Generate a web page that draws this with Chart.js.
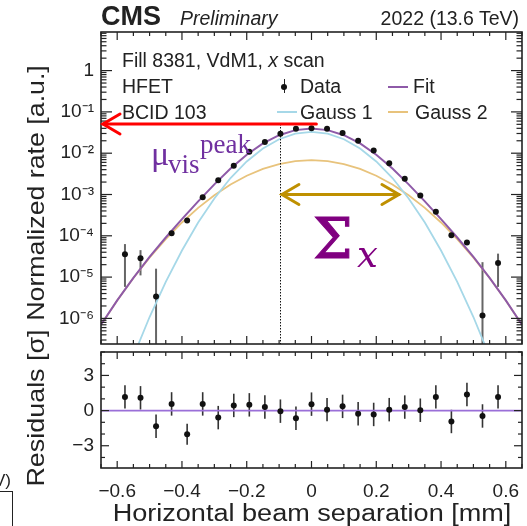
<!DOCTYPE html>
<html>
<head>
<meta charset="utf-8">
<script src="https://cdn.jsdelivr.net/npm/chart.js@4.4.1/dist/chart.umd.min.js"></script>
<style>
  body { margin: 0; background: #fff; }
  #page { position: relative; width: 527px; height: 526px; overflow: hidden;
          font-family: 'Liberation Sans', Arial, sans-serif; color: #222; }
  #top { position: absolute; left: 0; top: 0; width: 527px; height: 348px; }
  #bottom { position: absolute; left: 0; top: 348px; width: 527px; height: 178px; }
  .txt { position: absolute; white-space: nowrap; line-height: 1; }
  .serif { font-family: 'Liberation Serif', 'Times New Roman', serif; }
  .math { font-family: 'DejaVu Serif', serif; }
  .lg { position: absolute; height: 0; }
</style>
</head>
<body>
<div id="page">
  <div id="top"><canvas id="rateChart"></canvas></div>
  <div id="bottom"><canvas id="residChart"></canvas></div>

  <!-- header -->
  <div class="txt" style="left:101px; top:3px; font-size:27px; font-weight:bold;">CMS</div>
  <div class="txt" style="left:180px; top:8.5px; font-size:19.5px; font-style:italic;">Preliminary</div>
  <div class="txt" style="right:8px; top:8.5px; font-size:19.5px;">2022 (13.6 TeV)</div>

  <!-- info + legend -->
  <div class="txt" style="left:122px; top:50.5px; font-size:19.5px;">Fill 8381, VdM1, <i>x</i> scan</div>
  <div class="txt" style="left:122px; top:76.5px; font-size:19.5px;">HFET</div>
  <div class="txt" style="left:122px; top:102.5px; font-size:19.5px;">BCID 103</div>
  <div class="lg" style="left:283.5px; top:79px; width:1.5px; height:14px; background:#222;"></div>
  <div class="lg" style="left:281px; top:83.5px; width:6px; height:6px; border-radius:50%; background:#111;"></div>
  <div class="txt" style="left:300px; top:76.5px; font-size:19.5px;">Data</div>
  <div class="lg" style="left:388px; top:86px; width:20px; border-top:2px solid #8e5aa8;"></div>
  <div class="txt" style="left:413px; top:76.5px; font-size:19.5px;">Fit</div>
  <div class="lg" style="left:277px; top:111px; width:20px; border-top:2px solid #a6d8e8;"></div>
  <div class="txt" style="left:300px; top:102.5px; font-size:19.5px;">Gauss 1</div>
  <div class="lg" style="left:388px; top:111px; width:20px; border-top:2px solid #e8c37c;"></div>
  <div class="txt" style="left:415px; top:102.5px; font-size:19.5px;">Gauss 2</div>

  <!-- annotations -->
  <div class="txt serif" style="left:151px; top:136.5px; font-size:34px; color:#7030a0;">μ</div>
  <div class="txt serif" style="left:168px; top:150.5px; font-size:27px; color:#7030a0;">vis</div>
  <div class="txt serif" style="left:200px; top:130.5px; font-size:27px; color:#7030a0;">peak</div>
  <div class="txt math" style="left:313px; top:211px; font-size:56px; color:#800080; -webkit-text-stroke:1px #800080;">Σ</div>
  <div class="txt math" style="left:357px; top:236px; font-size:37px; font-style:italic; color:#800080;">x</div>

  <!-- axis titles -->
  <div class="txt title" data-len="255" data-rot="1" style="left:36px; top:193px; font-size:24px;">Normalized rate [a.u.]</div>
  <div class="txt title" data-len="157" data-rot="1" style="left:36px; top:408px; font-size:24px;">Residuals [σ]</div>
  <div class="txt title" data-len="399" style="left:312px; top:513px; font-size:23px;">Horizontal beam separation [mm]</div>

  <!-- cropped slide leftovers -->
  <div class="txt" style="left:-6px; top:472px; font-size:17px;">V)</div>
  <div class="lg" style="left:0; top:491px; width:13px; border-top:1.5px solid #222;"></div>
  <div class="lg" style="left:12px; top:491px; width:0; height:40px; border-left:1.5px solid #222;"></div>
</div>

<script>
// --- data ---
const separation = [-0.576, -0.528, -0.480, -0.432, -0.384, -0.336, -0.288, -0.240, -0.192, -0.144, -0.096, -0.048,
                    0.000, 0.048, 0.096, 0.144, 0.192, 0.240, 0.288, 0.336, 0.384, 0.432, 0.480, 0.528, 0.576];
const rate = [3.6e-5, 2.85e-5, 3.4e-6, 1.15e-4, 2.35e-4, 8.6e-4, 2.2e-3, 5.0e-3, 1.08e-2, 1.87e-2, 2.95e-2, 3.9e-2,
              4.0e-2, 3.9e-2, 3.1e-2, 2.0e-2, 1.16e-2, 5.7e-3, 2.4e-3, 9.5e-4, 3.8e-4, 1.03e-4, 6.9e-5, 1.17e-6, 2.2e-5];
// error bar ends (null = hidden behind the marker)
const rateHi = [6.3e-5, 4.5e-5, 1.6e-5, null, null, null, null, null, null, null, null, null,
                null, null, null, null, null, null, null, null, null, null, null, 2.3e-5, 3.7e-5];
const rateLo = [5.8e-6, 1.1e-5, 1e-8, null, null, null, null, null, null, null, null, null,
                null, null, null, null, null, null, null, null, null, null, null, 1e-8, 5.8e-6];
const residual = [1.17, 1.09, -1.34, 0.57, -2.02, 0.57, -0.60, 0.44, 0.49, 0.30, -0.05, -0.66,
                  0.55, 0.08, 0.36, -0.27, -0.33, 0.08, 0.30, 0.03, 1.17, -0.93, 1.37, -0.46, 1.17];
const residualErr = [1, 1, 1, 1, 0.9, 1, 1, 1, 1, 1, 1, 1, 1, 1, 1, 1, 1, 1, 1, 1, 1, 1, 1, 1, 1];

// fit curves sampled on a grid
const fitGrid = [-0.65, -0.60, -0.55, -0.50, -0.45, -0.40, -0.35, -0.30, -0.25, -0.20, -0.15, -0.10, -0.05, 0,
                 0.05, 0.10, 0.15, 0.20, 0.25, 0.30, 0.35, 0.40, 0.45, 0.50, 0.55, 0.60, 0.65];
const fitCurve = [7.0e-7, 2.73e-6, 9.6e-6, 3.08e-5, 9.1e-5, 2.54e-4, 6.83e-4, 1.76e-3, 4.24e-3, 9.17e-3, 1.72e-2, 2.73e-2, 3.62e-2, 3.98e-2,
                  3.62e-2, 2.73e-2, 1.72e-2, 9.17e-3, 4.24e-3, 1.76e-3, 6.83e-4, 2.54e-4, 9.1e-5, 3.08e-5, 9.6e-6, 2.73e-6, 7.0e-7];
const gauss1Curve = [8.6e-10, 1.1e-8, 1.2e-7, 1.08e-6, 7.7e-6, 4.4e-5, 2.09e-4, 8.0e-4, 2.5e-3, 6.3e-3, 1.3e-2, 2.18e-2, 2.98e-2, 3.3e-2,
                     2.98e-2, 2.18e-2, 1.3e-2, 6.3e-3, 2.5e-3, 8.0e-4, 2.09e-4, 4.4e-5, 7.7e-6, 1.08e-6, 1.2e-7, 1.1e-8, 8.6e-10];
const gauss2Curve = [7.0e-7, 2.7e-6, 9.5e-6, 2.97e-5, 8.3e-5, 2.1e-4, 4.74e-4, 9.6e-4, 1.75e-3, 2.85e-3, 4.17e-3, 5.47e-3, 6.44e-3, 6.8e-3,
                     6.44e-3, 5.47e-3, 4.17e-3, 2.85e-3, 1.75e-3, 9.6e-4, 4.74e-4, 2.1e-4, 8.3e-5, 2.97e-5, 9.5e-6, 2.7e-6, 7.0e-7];

// tick labels
const sepTicks = [-0.6, -0.4, -0.2, 0, 0.2, 0.4, 0.6];
const sepTickLabels = ['\u22120.6', '\u22120.4', '\u22120.2', '0', '0.2', '0.4', '0.6'];
const rateTicks = [1, 1e-1, 1e-2, 1e-3, 1e-4, 1e-5, 1e-6];
const rateTickLabels = ['1', '10\u207B\u00B9', '10\u207B\u00B2', '10\u207B\u00B3', '10\u207B\u2074', '10\u207B\u2075', '10\u207B\u2076'];
const residTicks = [3, 0, -3];
const residTickLabels = ['3', '0', '\u22123'];

// annotation anchors (data units)
const peakArrow = { level: 0.051, from: 0.015, dropAt: -0.096 };
const widthArrow = { level: 1e-3, from: -0.096, to: 0.27 };

Chart.defaults.font.family = "'Liberation Sans', Arial, sans-serif";
Chart.defaults.color = '#222';

const INK = '#222';

function seg(ctx, x1, y1, x2, y2) {
    ctx.beginPath(); ctx.moveTo(x1, y1); ctx.lineTo(x2, y2); ctx.stroke();
}

// no label padding at the panel edges, the panels sit edge to edge
function noEdgePadding(s) {
    s.paddingTop = 0; s.paddingBottom = 0; s.paddingLeft = 0; s.paddingRight = 0;
}

// --- frame with inward ticks, ROOT style ---
const frameTicks = {
    id: 'frameTicks',
    afterDraw(chart, args, o) {
        const { ctx, chartArea: a, scales } = chart;
        const xs = scales.x, ys = scales.y;
        ctx.save();
        ctx.strokeStyle = INK;
        ctx.lineWidth = 1.2;
        for (let k = -13; k <= 13; k++) {
            const px = xs.getPixelForValue(k * 0.05);
            const len = (k % 4 === 0) ? o.xMajor : o.xMinor;
            seg(ctx, px, a.bottom, px, a.bottom - len);
            seg(ctx, px, a.top, px, a.top + len);
        }
        if (ys.type === 'logarithmic') {
            for (let e = -7; e <= 1; e++) {
                for (let m = 1; m <= 9; m++) {
                    const v = m * Math.pow(10, e);
                    if (v < ys.min || v > ys.max) continue;
                    const py = ys.getPixelForValue(v);
                    const len = m === 1 ? o.yMajor : o.yMinor;
                    seg(ctx, a.left, py, a.left + len, py);
                    seg(ctx, a.right, py, a.right - len, py);
                }
            }
        } else {
            for (let v = Math.ceil(ys.min); v <= ys.max; v++) {
                const py = ys.getPixelForValue(v);
                const len = v % 3 === 0 ? o.yMajor : o.yMinor;
                seg(ctx, a.left, py, a.left + len, py);
                seg(ctx, a.right, py, a.right - len, py);
            }
        }
        ctx.lineWidth = 1.6;
        ctx.strokeRect(a.left, a.top, a.right - a.left, a.bottom - a.top);
        ctx.restore();
    }
};

// --- vertical error bars ---
const errorBars = {
    id: 'errorBars',
    beforeDatasetsDraw(chart, args, o) {
        const { ctx, chartArea: a, scales } = chart;
        ctx.save();
        ctx.beginPath();
        ctx.rect(a.left, a.top, a.right - a.left, a.bottom - a.top);
        ctx.clip();
        ctx.strokeStyle = o.color;
        ctx.lineWidth = o.width;
        o.x.forEach((xv, i) => {
            if (o.lo[i] == null || o.hi[i] == null) return;
            const px = scales.x.getPixelForValue(xv);
            seg(ctx, px, scales.y.getPixelForValue(o.lo[i]), px, scales.y.getPixelForValue(o.hi[i]));
        });
        ctx.restore();
    }
};

function arrowHead(ctx, x, y, dir) {
    ctx.beginPath();
    ctx.moveTo(x + dir * 17, y - 10);
    ctx.lineTo(x, y);
    ctx.lineTo(x + dir * 17, y + 10);
    ctx.stroke();
}

// --- hand-drawn style overlays on the upper panel ---
const overlays = {
    id: 'overlays',
    afterDraw(chart) {
        const { ctx, chartArea: a, scales } = chart;
        const xs = scales.x, ys = scales.y;
        ctx.save();
        // dotted drop line
        const dx = Math.round(xs.getPixelForValue(peakArrow.dropAt)) + 0.5;
        const py = ys.getPixelForValue(peakArrow.level);
        ctx.strokeStyle = '#111';
        ctx.lineWidth = 1;
        ctx.setLineDash([1.5, 1.5]);
        seg(ctx, dx, py, dx, a.bottom);
        ctx.setLineDash([]);
        // red arrow to the axis
        ctx.strokeStyle = '#ff0000';
        ctx.lineWidth = 3;
        ctx.lineCap = 'round';
        seg(ctx, a.left + 2, py, xs.getPixelForValue(peakArrow.from), py);
        arrowHead(ctx, a.left + 2, py, 1);
        // gold width arrow
        const wy = ys.getPixelForValue(widthArrow.level);
        const x1 = xs.getPixelForValue(widthArrow.from) + 1.5;
        const x2 = xs.getPixelForValue(widthArrow.to);
        ctx.strokeStyle = '#bf9000';
        seg(ctx, x1, wy, x2, wy);
        arrowHead(ctx, x1, wy, 1);
        arrowHead(ctx, x2, wy, -1);
        ctx.restore();
    }
};

const xCommon = { type: 'linear', min: -0.65, max: 0.65 };

new Chart(document.getElementById('rateChart'), {
    type: 'scatter',
    data: {
        datasets: [
            { label: 'Data', data: separation.map((x, i) => ({ x, y: rate[i] })),
              pointRadius: 3, pointBackgroundColor: '#111', pointBorderWidth: 0, showLine: false },
            { label: 'Fit', type: 'line', data: fitGrid.map((x, i) => ({ x, y: fitCurve[i] })),
              borderColor: '#8e5aa8', borderWidth: 2, pointRadius: 0, tension: 0 },
            { label: 'Gauss 1', type: 'line', data: fitGrid.map((x, i) => ({ x, y: gauss1Curve[i] })),
              borderColor: '#a6d8e8', borderWidth: 1.8, pointRadius: 0, tension: 0 },
            { label: 'Gauss 2', type: 'line', data: fitGrid.map((x, i) => ({ x, y: gauss2Curve[i] })),
              borderColor: '#e8c37c', borderWidth: 1.8, pointRadius: 0, tension: 0 }
        ]
    },
    options: {
        responsive: true,
        maintainAspectRatio: false,
        animation: false,
        layout: { padding: { top: 32, right: 5, left: 0, bottom: 0 } },
        plugins: {
            legend: { display: false },
            tooltip: { enabled: false },
            frameTicks: { xMajor: 8, xMinor: 4, yMajor: 11, yMinor: 5.5 },
            errorBars: { x: separation, lo: rateLo, hi: rateHi, color: '#666', width: 2 }
        },
        scales: {
            x: { ...xCommon, display: false },
            y: {
                type: 'logarithmic', min: 2.4e-7, max: 8.6,
                afterFit(s) { s.width = 101; noEdgePadding(s); },
                afterBuildTicks(s) { s.ticks = rateTicks.map(v => ({ value: v })); },
                ticks: { callback: (v, i) => rateTickLabels[i], autoSkip: false, font: { size: 19 }, color: INK, padding: 7 },
                grid: { display: false, drawTicks: false },
                border: { display: false }
            }
        }
    },
    plugins: [errorBars, frameTicks, overlays]
});

new Chart(document.getElementById('residChart'), {
    type: 'scatter',
    data: {
        datasets: [
            { label: 'Residuals', data: separation.map((x, i) => ({ x, y: residual[i] })),
              pointRadius: 3, pointBackgroundColor: '#111', pointBorderWidth: 0, showLine: false },
            { label: 'Zero', type: 'line', data: fitGrid.map(x => ({ x, y: 0 })),
              borderColor: '#9a6fd8', borderWidth: 1.6, pointRadius: 0 }
        ]
    },
    options: {
        responsive: true,
        maintainAspectRatio: false,
        animation: false,
        layout: { padding: { top: 0, right: 5, left: 0, bottom: 0 } },
        plugins: {
            legend: { display: false },
            tooltip: { enabled: false },
            frameTicks: { xMajor: 7, xMinor: 4, yMajor: 8, yMinor: 4 },
            errorBars: { x: separation,
                         lo: residual.map((r, i) => r - residualErr[i]),
                         hi: residual.map((r, i) => r + residualErr[i]),
                         color: '#333', width: 1.6 }
        },
        scales: {
            x: {
                ...xCommon,
                afterFit(s) { s.height = 58; noEdgePadding(s); },
                afterBuildTicks(s) { s.ticks = sepTicks.map(v => ({ value: v })); },
                ticks: { callback: (v, i) => sepTickLabels[i], autoSkip: false, maxRotation: 0,
                         font: { size: 19 }, color: INK, padding: 12 },
                grid: { display: false, drawTicks: false },
                border: { display: false }
            },
            y: {
                type: 'linear', min: -4.9, max: 5,
                afterFit(s) { s.width = 101; noEdgePadding(s); },
                afterBuildTicks(s) { s.ticks = residTicks.map(v => ({ value: v })); },
                ticks: { callback: (v, i) => residTickLabels[i], autoSkip: false, font: { size: 19 }, color: INK, padding: 7 },
                grid: { display: false, drawTicks: false },
                border: { display: false }
            }
        }
    },
    plugins: [errorBars, frameTicks]
});

// stretch the axis titles to the length they have in the picture
document.querySelectorAll('.title').forEach(el => {
    const k = Number(el.dataset.len) / el.offsetWidth;
    const rot = el.dataset.rot ? ' rotate(-90deg)' : '';
    el.style.transform = 'translate(-50%, -50%)' + rot + ' scaleX(' + k.toFixed(3) + ')';
});
</script>
</body>
</html>
